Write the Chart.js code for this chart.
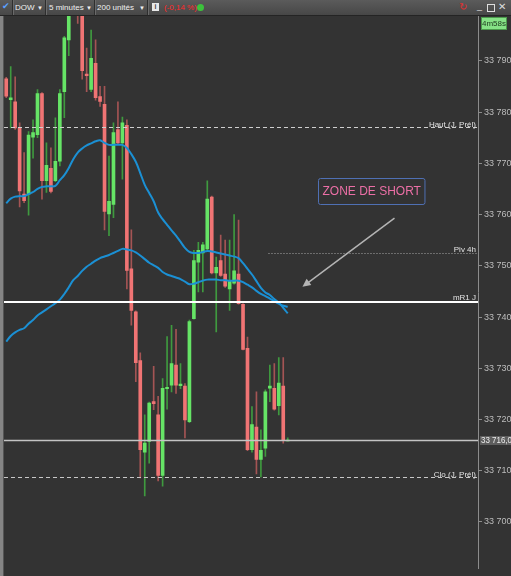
<!DOCTYPE html>
<html>
<head>
<meta charset="utf-8">
<script src="https://cdn.jsdelivr.net/npm/chart.js@4/dist/chart.umd.min.js"></script>
<style>
  html, body { margin: 0; padding: 0; background: #333333; width: 511px; height: 576px; overflow: hidden; }
  #wrap { position: relative; width: 511px; height: 576px; font-family: "Liberation Sans", Arial, sans-serif; }
  #chart { position: absolute; left: 0; top: 0; }
  #toolbar { position: absolute; left: 0; top: 0; width: 511px; height: 15px;
             background: linear-gradient(#5b5b5b, #474747); border-bottom: 1px solid #242424;
             font-size: 8px; color: #f0f0f0; }
  #toolbar span { position: absolute; top: 2px; line-height: 11px; white-space: nowrap; }
  .sep { position: absolute; top: 0; width: 1px; height: 15px; background: #2e2e2e; border-right: 1px solid #6a6a6a; }
  .arr { font-size: 6px; top: 3px !important; }
  #leftbar { position: absolute; left: 0; top: 16px; width: 3px; height: 560px; background: #858585; border-right: 1px solid #555; }
</style>
</head>
<body>
<div id="wrap">
  <canvas id="chart" width="511" height="576"></canvas>
  <div id="leftbar"></div>
  <div id="toolbar">
    <span style="left:2px;top:1px;color:#5aa0ff;font-size:9px;">&#10004;</span>
    <div class="sep" style="left:12px"></div>
    <span style="left:15px;">DOW</span><span class="arr" style="left:37px;">&#9660;</span>
    <div class="sep" style="left:45px"></div>
    <span style="left:49px;">5 minutes</span><span class="arr" style="left:86px;">&#9660;</span>
    <div class="sep" style="left:94px"></div>
    <span style="left:97px;">200 unités</span><span class="arr" style="left:139px;">&#9660;</span>
    <div class="sep" style="left:147px"></div>
    <span style="left:152px;top:3px;width:7px;height:8px;background:#e8e8e8;color:#444;font-size:7px;line-height:8px;text-align:center;font-weight:bold;">i</span>
    <span style="left:164px;color:#ff2a2a;">(-0,14 %)</span>
    <span style="left:197px;top:4px;width:7px;height:7px;border-radius:50%;background:#3cc23c;"></span>
    <span style="left:459px;top:1px;color:#e03030;font-size:10px;">&#8635;</span>
    <span style="left:477px;top:1px;font-size:9px;color:#ddd;">_</span>
    <span style="left:487px;top:4px;width:6px;height:6px;border:1px solid #ddd;"></span>
    <span style="left:498px;top:1px;font-size:10px;color:#ddd;">&#10005;</span>
  </div>
</div>
<script>
// DOW, 5-minute candles (oldest first)
const opens  = [33786.5,33782.4,33782.0,33776.9,33764.0,33764.0,33775.1,33775.6,33783.6,33766.6,
                33769.0,33766.6,33770.4,33784.0,33794.1,33806.0,33803.0,33801.0,33787.4,33784.4,
                33789.5,33783.0,33781.5,33760.1,33762.0,33776.6,33774.0,33777.4,33749.4,33741.0,
                33731.5,33713.6,33715.7,33723.5,33720.9,33709.1,33726.0,33726.7,33730.6,33726.6,
                33726.5,33719.6,33739.7,33750.7,33752.5,33753.3,33763.4,33748.6,33751.0,33748.4,
                33745.5,33746.6,33748.4,33742.5,33733.9,33714.1,33718.5,33712.2,33714.4,33726.1,
                33726.1,33722.7,33726.5,33715.8];
const highs  = [33786.8,33788.9,33786.9,33777.9,33772.1,33776.2,33778.5,33784.4,33783.8,33774.0,
                33773.0,33778.9,33784.4,33794.8,33803.0,33808.0,33805.0,33803.0,33792.5,33796.0,
                33794.1,33785.0,33785.0,33771.4,33777.9,33782.0,33779.0,33778.5,33757.0,33741.2,
                33733.0,33720.9,33723.4,33730.4,33724.5,33728.0,33736.2,33738.4,33737.6,33730.9,
                33727.0,33739.4,33753.0,33754.6,33754.6,33766.6,33763.6,33751.7,33756.0,33755.0,
                33755.0,33760.0,33758.9,33742.6,33736.1,33722.5,33725.4,33718.0,33725.8,33730.6,
                33730.9,33732.1,33732.1,33716.4];
const lows   = [33782.8,33776.9,33776.6,33761.5,33762.3,33759.9,33771.0,33775.0,33763.0,33764.3,
                33764.2,33766.4,33769.5,33778.9,33791.0,33800.0,33797.3,33786.4,33784.0,33784.0,
                33782.3,33781.1,33757.0,33755.9,33759.4,33773.8,33766.9,33745.5,33738.4,33727.4,
                33708.6,33705.1,33711.5,33721.9,33708.0,33707.0,33722.0,33725.4,33725.1,33726.0,
                33716.4,33719.4,33739.6,33744.9,33744.9,33753.1,33748.4,33737.1,33747.9,33745.8,
                33741.3,33746.4,33742.5,33733.6,33713.9,33713.6,33709.4,33708.8,33712.8,33723.5,
                33721.8,33720.9,33715.4,33715.8];
const closes = [33783.1,33782.8,33776.9,33764.6,33762.7,33775.5,33776.0,33783.6,33766.6,33769.6,
                33764.5,33770.4,33783.6,33794.5,33801.0,33802.0,33799.5,33788.1,33787.1,33790.5,
                33782.8,33782.1,33760.6,33762.6,33776.0,33774.0,33777.9,33749.1,33741.3,33731.1,
                33714.1,33715.4,33723.2,33723.1,33709.1,33726.1,33726.3,33730.9,33726.7,33726.9,
                33719.9,33739.1,33751.0,33753.0,33754.1,33763.0,33748.6,33749.7,33748.1,33746.0,
                33747.1,33749.0,33742.6,33733.7,33714.1,33719.0,33712.2,33714.0,33725.4,33726.5,
                33722.0,33727.1,33715.9,33716.0];

// Moving averages, one value per candle
const maFast = [33762.2,33763.1,33763.5,33763.6,33763.6,33764.0,33764.4,33765.0,33765.4,33765.5,
                33765.5,33765.6,33766.7,33767.7,33769.1,33770.8,33772.1,33772.9,33773.5,33773.9,
                33774.3,33774.5,33774.0,33773.6,33773.6,33773.6,33773.6,33773.0,33771.8,33770.3,
                33768.1,33765.8,33764.2,33762.6,33760.4,33759.1,33758.0,33756.9,33755.9,33754.7,
                33753.5,33752.7,33752.5,33752.5,33752.7,33752.9,33752.8,33752.6,33752.4,33752.2,
                33752.0,33751.8,33751.5,33750.5,33749.4,33748.3,33747.0,33745.7,33744.8,33744.3,
                33743.5,33742.8,33741.8,33740.7];
const maSlow = [33735.2,33736.3,33737.0,33737.5,33737.8,33738.7,33739.4,33740.3,33740.9,33741.5,
                33742.1,33742.7,33743.4,33744.5,33745.8,33747.2,33748.0,33749.0,33749.8,33750.4,
                33751.0,33751.5,33751.8,33752.1,33752.5,33752.9,33753.3,33753.2,33753.0,33752.6,
                33752.0,33751.3,33750.6,33750.1,33749.6,33748.8,33748.3,33748.0,33747.7,33747.4,
                33746.9,33746.4,33746.5,33746.8,33747.1,33747.3,33747.3,33747.3,33747.2,33747.2,
                33747.1,33747.1,33747.1,33746.8,33746.3,33745.8,33745.1,33744.5,33744.1,33743.6,
                33743.1,33742.6,33742.2,33742.0];

// Price axis
const yTicks = [33700,33710,33720,33730,33740,33750,33760,33770,33780,33790];
const yMin = 33690.9, yMax = 33798.75;
const slots = 106;            // candle slots visible on the time axis

// Reference levels
const levelHautJPrel = 33777.0;
const levelPiv4h     = 33752.5;
const levelMR1J      = 33742.9;
const levelCloJPrel  = 33708.8;
const lastPrice      = closes[closes.length - 1];
const piv4hFrom      = 58.7;  // candle index where the 4h pivot segment begins

// Note and arrow (data coordinates: candle index, price)
const noteText = "ZONE DE SHORT";
const notePos = { x: 81.8, y: 33764.6 };
const arrowFrom = { x: 86.9, y: 33759.3 };
const arrowTo   = { x: 66.3, y: 33745.9 };

const UP_BODY = '#66e466', UP_WICK = '#3f9a3f';
const DN_BODY = '#f07474', DN_WICK = '#a45454';
const isUp = (i) => closes[i] >= opens[i];

const fmt = (v) => {
  const s = Math.round(v).toString();
  return s.slice(0, s.length - 3) + ' ' + s.slice(-3);
};

const overlay = {
  id: 'overlay',
  afterDatasetsDraw(chart) {
    const { ctx, chartArea: a, scales: { x, y } } = chart;
    ctx.save();
    ctx.beginPath();
    ctx.rect(a.left, a.top, a.right - a.left + 40, a.bottom - a.top);
    ctx.clip();

    const hline = (v, color, width, dash, fromX) => {
      const py = Math.round(y.getPixelForValue(v)) + (width % 2 ? 0.5 : 0);
      ctx.beginPath();
      ctx.setLineDash(dash);
      ctx.strokeStyle = color;
      ctx.lineWidth = width;
      ctx.moveTo(fromX, py);
      ctx.lineTo(a.right, py);
      ctx.stroke();
      ctx.setLineDash([]);
      return py;
    };
    const label = (txt, py) => {
      ctx.font = '8px "Liberation Sans", Arial, sans-serif';
      ctx.fillStyle = '#e2e2e2';
      ctx.textAlign = 'right';
      ctx.textBaseline = 'alphabetic';
      ctx.fillText(txt, a.right - 2, py - 1.5);
    };

    let py = hline(levelHautJPrel, '#cfcfcf', 1, [4, 3], a.left);
    label('Haut (J. Prél)', py + 1);
    py = hline(levelPiv4h, '#a8a8a8', 1, [1, 2], x.getPixelForValue(piv4hFrom));
    label('Piv 4h', py);
    py = hline(levelMR1J, '#ffffff', 2, [], a.left);
    label('mR1 J', py - 0.5);
    py = hline(levelCloJPrel, '#c8c8c8', 1, [4, 3], a.left);
    label('Clo (J. Prél)', py + 1);
    py = hline(lastPrice, '#c4c4c4', 1.5, [], a.left);

    // note box
    const nx = x.getPixelForValue(notePos.x), ny = y.getPixelForValue(notePos.y);
    ctx.font = '12px "Liberation Sans", Arial, sans-serif';
    const tw = ctx.measureText(noteText).width;
    const bw = tw + 8, bh = 26;
    ctx.fillStyle = '#333333';
    ctx.strokeStyle = '#4f70b4';
    ctx.lineWidth = 1;
    ctx.beginPath();
    ctx.roundRect(Math.round(nx - bw / 2) + 0.5, Math.round(ny - bh / 2) + 0.5, bw, bh, 2);
    ctx.fill();
    ctx.stroke();
    ctx.fillStyle = '#ec6fa6';
    ctx.textAlign = 'center';
    ctx.textBaseline = 'middle';
    ctx.fillText(noteText, nx, ny + 0.5);

    // arrow
    const x0 = x.getPixelForValue(arrowFrom.x), y0 = y.getPixelForValue(arrowFrom.y);
    const x1 = x.getPixelForValue(arrowTo.x), y1 = y.getPixelForValue(arrowTo.y);
    const ang = Math.atan2(y1 - y0, x1 - x0);
    ctx.strokeStyle = '#b4b4b4';
    ctx.fillStyle = '#b4b4b4';
    ctx.lineWidth = 1.5;
    ctx.beginPath();
    ctx.moveTo(x0, y0);
    ctx.lineTo(x1 - Math.cos(ang) * 5, y1 - Math.sin(ang) * 5);
    ctx.stroke();
    ctx.beginPath();
    ctx.moveTo(x1, y1);
    ctx.lineTo(x1 - Math.cos(ang - 0.45) * 9, y1 - Math.sin(ang - 0.45) * 9);
    ctx.lineTo(x1 - Math.cos(ang + 0.45) * 9, y1 - Math.sin(ang + 0.45) * 9);
    ctx.closePath();
    ctx.fill();
    ctx.restore();

    // last price tag on the axis
    ctx.save();
    const ly = y.getPixelForValue(lastPrice);
    ctx.fillStyle = '#5e5e5e';
    ctx.fillRect(a.right + 2, Math.round(ly) - 4, 33, 9);
    ctx.fillStyle = '#ececec';
    ctx.font = '9px "Liberation Sans Narrow", "Liberation Sans", Arial, sans-serif';
    ctx.textAlign = 'left';
    ctx.textBaseline = 'middle';
    ctx.fillText(fmt(lastPrice) + ',0', a.right + 3, ly + 0.5, 31);

    // bar countdown tag
    ctx.fillStyle = '#86e286';
    ctx.fillRect(a.right + 3, a.top + 1, 26, 13);
    ctx.strokeStyle = '#4c9a4c';
    ctx.strokeRect(a.right + 3.5, a.top + 1.5, 25, 12);
    ctx.fillStyle = '#1e3a1e';
    ctx.font = '8px "Liberation Sans", Arial, sans-serif';
    ctx.textAlign = 'center';
    ctx.fillText('4m58s', a.right + 16, a.top + 8);
    ctx.restore();
  }
};

const idx = opens.map((_, i) => i);

new Chart(document.getElementById('chart'), {
  data: {
    datasets: [
      {
        type: 'line', label: 'MA rapide', order: 0, clip: 0,
        data: idx.map(i => ({ x: i, y: maFast[i] })),
        borderColor: '#1b90d4', borderWidth: 2, pointRadius: 0, tension: 0.35
      },
      {
        type: 'line', label: 'MA lente', order: 0, clip: 0,
        data: idx.map(i => ({ x: i, y: maSlow[i] })),
        borderColor: '#1b90d4', borderWidth: 2, pointRadius: 0, tension: 0.35
      },
      {
        type: 'bar', label: 'Corps', order: 1, clip: 0, grouped: false,
        data: idx.map(i => ({ x: i, y: [opens[i], closes[i]] })),
        backgroundColor: idx.map(i => isUp(i) ? UP_BODY : DN_BODY),
        barThickness: 3, minBarLength: 1, borderWidth: 0
      },
      {
        type: 'bar', label: 'Mèches', order: 2, clip: 0, grouped: false,
        data: idx.map(i => ({ x: i, y: [lows[i], highs[i]] })),
        backgroundColor: idx.map(i => isUp(i) ? UP_WICK : DN_WICK),
        barThickness: 1, minBarLength: 1, borderWidth: 0
      }
    ]
  },
  options: {
    responsive: false,
    animation: false,
    events: [],
    layout: { padding: { top: 16, left: 4, bottom: 5, right: 0 } },
    plugins: { legend: { display: false }, tooltip: { enabled: false } },
    scales: {
      x: { type: 'linear', min: -0.5, max: slots - 0.41, display: false, offset: false },
      y: {
        type: 'linear', position: 'right', min: yMin, max: yMax,
        afterBuildTicks: (s) => { s.ticks = yTicks.map(v => ({ value: v })); },
        afterFit: (s) => { s.width = 33; },
        ticks: {
          color: '#bcbcbc', padding: 2, align: 'center',
          font: { family: '"Liberation Sans", Arial, sans-serif', size: 9 },
          callback: (v) => fmt(v)
        },
        grid: { drawOnChartArea: false, drawTicks: true, tickLength: 4, color: '#8c8c8c' },
        border: { display: true, color: '#8c8c8c', width: 1 }
      }
    }
  },
  plugins: [overlay]
});
</script>
</body>
</html>
